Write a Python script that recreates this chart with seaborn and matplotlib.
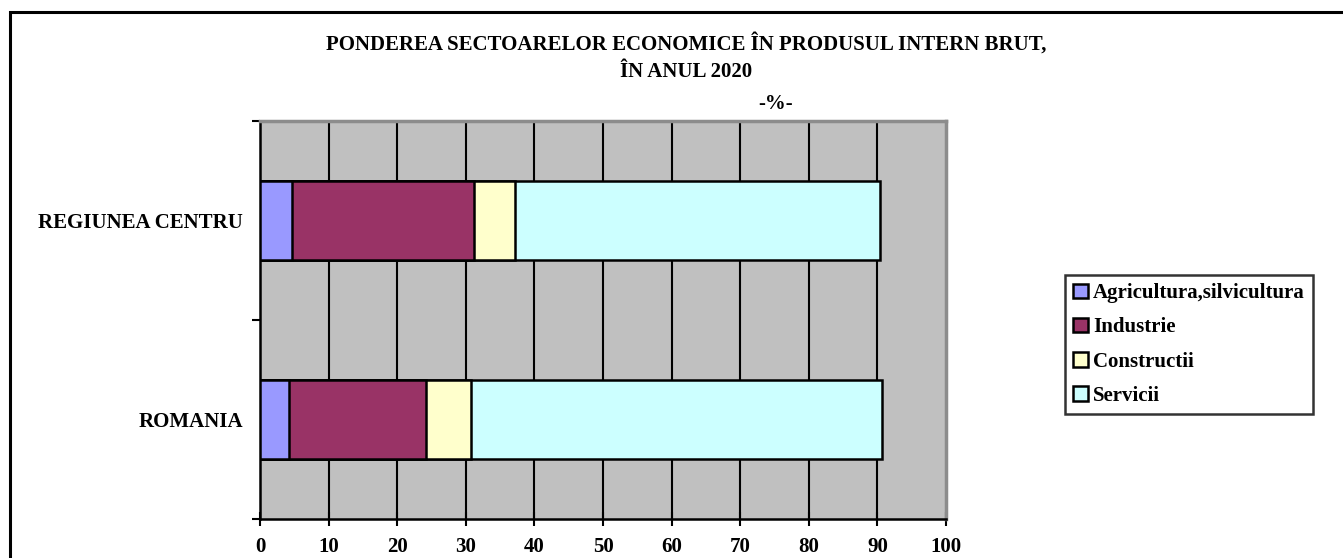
import matplotlib
matplotlib.use("Agg")
import matplotlib.pyplot as plt
import numpy as np
import pandas as pd
import seaborn as sns
from matplotlib.patches import Rectangle
from matplotlib.ticker import FixedLocator

# values (percent of GDP)
regions = ["REGIUNEA CENTRU", "ROMANIA"]
sectors = ["Agricultura,silvicultura", "Industrie", "Constructii", "Servicii"]
agricultura = [4.7, 4.2]
industrie = [26.5, 20.0]
constructii = [5.9, 6.6]
servicii = [53.3, 59.9]
x_ticks = [0, 10, 20, 30, 40, 50, 60, 70, 80, 90, 100]

colors = ["#9999FF", "#993366", "#FFFFCC", "#CCFFFF"]
FS = 15

sns.set_theme(style="white")
plt.rcParams["font.family"] = ["Liberation Serif", "DejaVu Serif"]
plt.rcParams["font.weight"] = "bold"
plt.rcParams["text.color"] = "black"
plt.rcParams["xtick.color"] = "black"
plt.rcParams["ytick.color"] = "black"

df = pd.DataFrame(
    {
        "region": regions,
        sectors[0]: agricultura,
        sectors[1]: industrie,
        sectors[2]: constructii,
        sectors[3]: servicii,
    }
)
cum = df[sectors].cumsum(axis=1)
cum["region"] = df["region"]

fig = plt.figure(figsize=(13.43, 5.58), dpi=100)
ax = fig.add_axes([260 / 1343, 1 - 519 / 558, (946 - 260) / 1343, (519 - 121) / 558])
ax.set_facecolor("#C0C0C0")

# stacked bars: draw cumulative totals from the outermost segment inward
for sector, color in reversed(list(zip(sectors, colors))):
    sns.barplot(
        data=cum,
        x=sector,
        y="region",
        order=regions,
        color=color,
        width=0.4,
        edgecolor="black",
        linewidth=1.8,
        saturation=1,
        ax=ax,
        zorder=3,
    )

ax.set_xlim(0, 100)
ax.set_ylim(1.5, -0.5)
ax.xaxis.set_major_locator(FixedLocator(x_ticks))
ax.set_xticklabels([str(t) for t in x_ticks], fontsize=FS, fontweight="bold")
ax.set_yticks([0, 1])
ax.set_yticklabels(regions, fontsize=FS, fontweight="bold")
ax.yaxis.set_minor_locator(FixedLocator([-0.5, 0.5, 1.5]))
ax.tick_params(axis="y", which="major", length=0, pad=12)
ax.tick_params(axis="y", which="minor", length=6, width=1.5, color="black", direction="out", left=True)
ax.tick_params(axis="x", which="major", length=10, width=1.5, color="black", direction="inout",
               bottom=True, pad=8)
ax.set_xlabel("")
ax.set_ylabel("")

for x in x_ticks[1:-1]:
    ax.axvline(x, color="black", linewidth=1.5, zorder=1)

for side in ["left", "bottom"]:
    ax.spines[side].set_color("black")
    ax.spines[side].set_linewidth(1.8)
for side in ["top", "right"]:
    ax.spines[side].set_color("#8C8C8C")
    ax.spines[side].set_linewidth(2.5)

handles = [
    Rectangle((0, 0), 1, 1, facecolor=c, edgecolor="black", linewidth=1.8) for c in colors
]
leg = fig.legend(
    handles,
    sectors,
    loc="upper left",
    bbox_to_anchor=(1065 / 1343, 1 - 275 / 558),
    frameon=True,
    fancybox=False,
    edgecolor="black",
    prop={"family": "Liberation Serif", "weight": "bold", "size": FS},
    handlelength=0.7,
    handleheight=0.7,
    handletextpad=0.25,
    labelspacing=0.68,
    borderpad=0.4,
    borderaxespad=0,
)
leg.get_frame().set_linewidth(1.8)

fig.text(686 / 1343, 1 - 44 / 558, "PONDEREA SECTOARELOR ECONOMICE ÎN PRODUSUL INTERN BRUT,",
         ha="center", va="center", fontsize=FS, fontweight="bold")
fig.text(686 / 1343, 1 - 72 / 558, "ÎN ANUL 2020", ha="center", va="center",
         fontsize=FS, fontweight="bold")
fig.text(776 / 1343, 1 - 104 / 558, "-%-", ha="center", va="center",
         fontsize=FS, fontweight="bold")

fig.patches.append(
    Rectangle((10 / 1343, -0.05), 1.1, 1 - 12 / 558 + 0.05, transform=fig.transFigure,
              fill=False, edgecolor="black", linewidth=2.2)
)

fig.savefig("out.png", dpi=100)
